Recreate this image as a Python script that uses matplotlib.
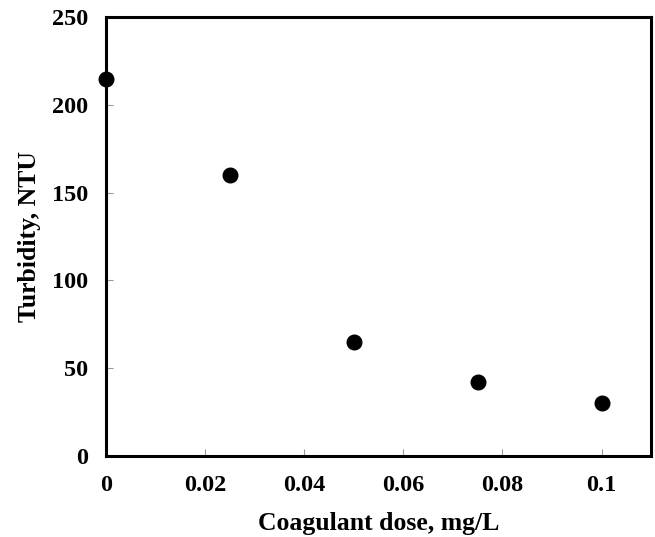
import matplotlib
matplotlib.use("Agg")
import matplotlib.pyplot as plt

# coagulant dose (mg/L) vs turbidity (NTU)
dose = [0.0, 0.025, 0.05, 0.075, 0.1]
turbidity = [215, 160, 65, 42, 30]

x_ticks = [0, 0.02, 0.04, 0.06, 0.08, 0.1]
x_tick_labels = ["0", "0.02", "0.04", "0.06", "0.08", "0.1"]
y_ticks = [0, 50, 100, 150, 200, 250]

plt.rcParams["font.family"] = ["Liberation Serif", "DejaVu Serif"]
plt.rcParams["font.weight"] = "bold"

fig = plt.figure(figsize=(6.55, 5.37), dpi=100)
ax = fig.add_axes([0.162, 0.151, 0.832, 0.817])

ax.plot(dose, turbidity, "o", color="black", markersize=10.5, clip_on=False, zorder=3)

ax.set_xlim(0, 0.11)
ax.set_ylim(0, 250)
ax.set_xticks(x_ticks)
ax.set_xticklabels(x_tick_labels)
ax.set_yticks(y_ticks)

ax.tick_params(direction="in", length=5, width=0.8, color="#999999", labelsize=17.5)
ax.tick_params(axis="x", pad=14)
ax.tick_params(axis="y", pad=13)
for lab in ax.get_xticklabels() + ax.get_yticklabels():
    lab.set_fontweight("bold")

for s in ax.spines.values():
    s.set_linewidth(2.2)

ax.set_xlabel("Coagulant dose, mg/L", fontsize=18.5, fontweight="bold", labelpad=11)
ax.set_ylabel("Turbidity, NTU", fontsize=18.5, fontweight="bold", labelpad=8)

fig.savefig("out.png", dpi=100)
plt.close(fig)
